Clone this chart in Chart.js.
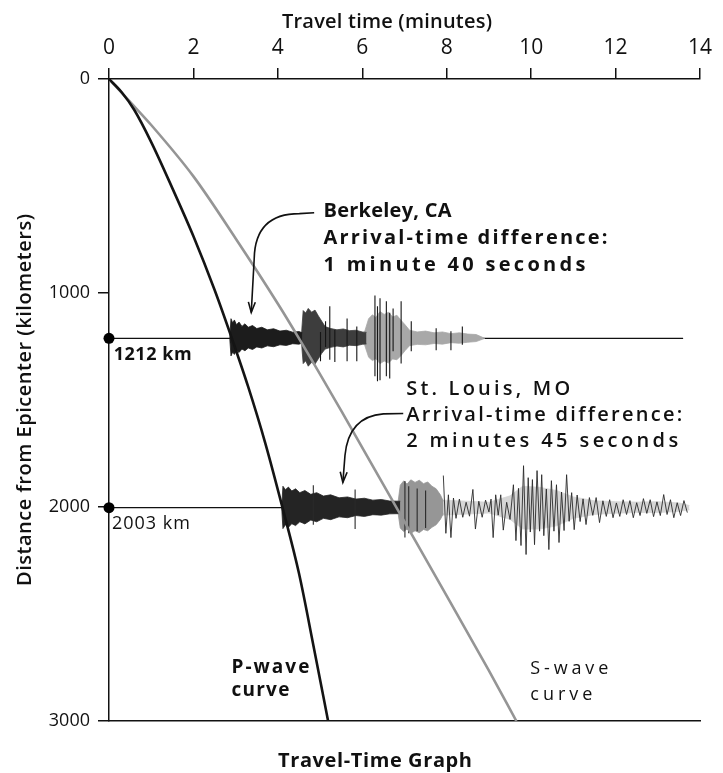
<!DOCTYPE html>
<html>
<head>
<meta charset="utf-8">
<script src="https://cdn.jsdelivr.net/npm/chart.js@4.4.1/dist/chart.umd.min.js"></script>
<style>
  html, body { margin: 0; padding: 0; background: #fff; }
  #wrap { width: 723px; height: 773px; }
</style>
</head>
<body>
<div id="wrap"><canvas id="travel-chart"></canvas></div>
<script>
// axis ticks
const minuteTicks = [0, 2, 4, 6, 8, 10, 12, 14];
const distanceTicks = [0, 1000, 2000, 3000];

// travel-time curves (minutes -> km)
const pWaveMinutes = [0, 0.3, 0.6, 1.0, 1.5, 2.0, 2.5, 2.91, 3.3, 3.7, 4.11, 4.5, 4.85, 5.19];
const pWaveKm      = [0, 62, 145, 295, 510, 735, 985, 1212, 1440, 1700, 2003, 2310, 2655, 3000];
const sWaveMinutes = [0, 0.5, 1, 2, 3, 4, 4.5, 5.5, 6.81, 8, 9, 9.65];
const sWaveKm      = [0, 107, 215, 455, 745, 1050, 1212, 1550, 2003, 2415, 2765, 3000];

// stations
const stationKm = [1212, 2003];
const stationLabels = ['1212 km', '2003 km'];
const traceEnd = [13.6, 13.7];

// Berkeley seismogram (offsets in km above / below the 1212 km line)
const bkPTimes = [2.86, 2.89, 2.93, 2.97, 3.02, 3.08, 3.15, 3.22, 3.3, 3.4, 3.5, 3.62, 3.75, 3.9, 4.05, 4.2, 4.35, 4.5, 4.58];
const bkPUp    = [0, 92, 72, 86, 64, 76, 56, 68, 52, 60, 46, 52, 40, 45, 34, 38, 29, 32, 26];
const bkPDown  = [0, 82, 64, 75, 56, 66, 50, 58, 45, 52, 40, 45, 35, 39, 30, 33, 25, 27, 22];
const bkSTimes = [4.56, 4.6, 4.66, 4.72, 4.8, 4.88, 4.96, 5.04, 5.12, 5.25, 5.4, 5.55, 5.7, 5.85, 6.0, 6.1];
const bkSUp    = [22, 130, 118, 140, 122, 132, 105, 80, 55, 46, 40, 44, 36, 38, 30, 28];
const bkSDown  = [20, 118, 105, 130, 112, 120, 95, 70, 50, 42, 36, 40, 32, 34, 28, 26];
const bkLTimes = [6.05, 6.15, 6.24, 6.32, 6.42, 6.52, 6.62, 6.72, 6.82, 6.92, 7.02, 7.12, 7.3, 7.5, 7.7, 7.9, 8.1, 8.3, 8.5, 8.7, 8.9];
const bkLUp    = [28, 92, 110, 98, 125, 112, 122, 100, 108, 84, 62, 38, 30, 34, 26, 30, 22, 26, 20, 18, 0];
const bkLDown  = [28, 88, 104, 95, 118, 106, 115, 96, 100, 80, 56, 34, 28, 30, 24, 27, 20, 23, 18, 15, 0];
const bkSpikeTimes = [5.01, 5.13, 5.23, 5.35, 5.64, 5.87, 6.30, 6.36, 6.42, 6.57, 6.65, 6.73, 6.92, 7.16, 7.75, 8.1, 8.37];
const bkSpikeUp    = [30, 80, 150, 40, 93, 56, 200, 150, 187, 173, 120, 140, 173, 80, 47, 33, 56];
const bkSpikeDown  = [107, 40, 100, 110, 107, 107, 177, 200, 196, 177, 187, 60, 117, 60, 56, 56, 30];

// St. Louis seismogram (offsets in km around the 2003 km line)
const slPTimes = [4.09, 4.12, 4.18, 4.25, 4.33, 4.42, 4.52, 4.64, 4.78, 4.92, 5.08, 5.25, 5.45, 5.65, 5.85, 6.05, 6.25, 6.45, 6.65, 6.9];
const slPUp    = [0, 100, 84, 96, 78, 88, 70, 80, 62, 70, 54, 60, 46, 50, 40, 44, 35, 38, 31, 30];
const slPDown  = [0, 98, 80, 92, 75, 84, 66, 76, 58, 66, 50, 56, 43, 47, 37, 41, 33, 35, 29, 28];
const slSTimes = [6.85, 6.9, 6.98, 7.06, 7.15, 7.25, 7.35, 7.45, 7.55, 7.65, 7.75, 7.85, 7.92];
const slSUp    = [30, 105, 125, 110, 130, 118, 128, 112, 120, 100, 88, 60, 30];
const slSDown  = [28, 95, 112, 100, 120, 108, 117, 102, 108, 92, 80, 55, 28];
const slLTimes = [7.9, 8.5, 9.0, 9.5, 9.8, 10.2, 10.6, 11.0, 11.5, 12.0, 12.5, 13.0, 13.5, 13.75];
const slLUp    = [35, 30, 25, 55, 100, 95, 80, 50, 32, 28, 26, 28, 22, 10];
const slLDown  = [35, 30, 25, 55, 100, 100, 85, 50, 32, 26, 23, 23, 18, 10];
const slSpikeTimes = [4.84, 5.83, 7.01, 7.1, 7.3, 7.5];
const slSpikeUp    = [105, 85, 125, 100, 90, 80];
const slSpikeDown  = [80, 100, 140, 120, 110, 95];
const slWiggleTimes = [7.92, 7.98, 8.04, 8.1, 8.16, 8.22, 8.3, 8.38, 8.46, 8.54, 8.62, 8.68, 8.76, 8.84, 8.92, 9.0,
  9.05, 9.1, 9.16, 9.22, 9.28, 9.34, 9.42, 9.5, 9.58, 9.64, 9.7, 9.76, 9.82, 9.88, 9.93, 9.98, 10.03, 10.08,
  10.14, 10.2, 10.25, 10.3, 10.36, 10.42, 10.48, 10.54, 10.6, 10.66, 10.72, 10.78, 10.84, 10.9, 10.96, 11.02,
  11.09, 11.16, 11.23, 11.3, 11.38, 11.46, 11.54, 11.62, 11.7, 11.78, 11.86, 11.94, 12.02, 12.1, 12.18, 12.26,
  12.34, 12.42, 12.5, 12.58, 12.66, 12.74, 12.82, 12.9, 12.98, 13.06, 13.14, 13.22, 13.3, 13.38, 13.46, 13.54,
  13.62, 13.7];
const slWiggleKm = [-150, 120, -60, 140, -45, 50, -40, 45, -25, 40, -85, 100, -30, 45, -35, 20,
  -40, 140, -60, 35, -60, 105, -25, 55, -107, 154, -90, 177, -196, 219, -140, 114, -131, 173,
  -173, 110, -154, 131, -87, 196, -126, 110, -107, 163, -73, 107, -154, 64, -70, 103,
  -59, 65, -41, 79, -47, 36, -47, 70, -32, 41, -37, 47, -22, 41, -37, 32,
  -33, 47, -23, 37, -42, 27, -37, 42, -27, 37, -61, 32, -37, 47, -23, 37,
  -33, 23];

const pts = (xs, ys) => xs.map((x, i) => ({ x, y: ys[i] }));
const line = (data, color, width, extra) => Object.assign({
  data, borderColor: color, borderWidth: width, pointRadius: 0, fill: false, tension: 0
}, extra || {});

function band(times, up, down, base, color) {
  return [
    line(times.map((t, i) => ({ x: t, y: base - up[i] })), color, 0.8, { fill: '+1', backgroundColor: color }),
    line(times.map((t, i) => ({ x: t, y: base + down[i] })), color, 0.8)
  ];
}
function spikes(times, up, down, base, color) {
  const data = [];
  times.forEach((t, i) => {
    data.push({ x: t, y: base - up[i] }, { x: t, y: base + down[i] }, { x: t, y: null });
  });
  return line(data, color, 1.1, { spanGaps: false });
}

const datasets = [
  line(pts(pWaveMinutes, pWaveKm), '#141414', 2.6, { cubicInterpolationMode: 'monotone' }),
  line(pts(sWaveMinutes, sWaveKm), '#959595', 2.6, { cubicInterpolationMode: 'monotone' }),
  { data: stationKm.map(d => ({ x: 0, y: d })), showLine: false, pointRadius: 5.5,
    pointBackgroundColor: '#000', pointBorderWidth: 0, clip: false },
  spikes(bkSpikeTimes, bkSpikeUp, bkSpikeDown, stationKm[0], '#151515'),
  spikes(slSpikeTimes, slSpikeUp, slSpikeDown, stationKm[1], '#2a2a2a'),
  line(slWiggleTimes.map((t, i) => ({ x: t, y: stationKm[1] + slWiggleKm[i] })), '#2a2a2a', 0.9),
  ...band(bkPTimes, bkPUp, bkPDown, stationKm[0], '#1c1c1c'),
  ...band(bkSTimes, bkSUp, bkSDown, stationKm[0], '#3d3d3d'),
  ...band(bkLTimes, bkLUp, bkLDown, stationKm[0], '#a8a8a8'),
  ...band(slPTimes, slPUp, slPDown, stationKm[1], '#242424'),
  ...band(slSTimes, slSUp, slSDown, stationKm[1], '#969696'),
  ...band(slLTimes, slLUp, slLDown, stationKm[1], '#d6d6d6'),
  line([{ x: 0, y: stationKm[0] }, { x: traceEnd[0], y: stationKm[0] }], '#111', 1.3),
  line([{ x: 0, y: stationKm[1] }, { x: traceEnd[1], y: stationKm[1] }], '#111', 1.3)
];

const FONT = "'Open Sans', sans-serif";

function arrowPath(ctx, path, tip) {
  ctx.beginPath();
  ctx.moveTo(path[0][0], path[0][1]);
  ctx.lineTo(path[1][0], path[1][1]);
  ctx.quadraticCurveTo(path[2][0], path[2][1], path[3][0], path[3][1]);
  ctx.lineTo(tip[0], tip[1]);
  ctx.stroke();
  const ang = Math.atan2(tip[1] - path[3][1], tip[0] - path[3][0]);
  ctx.beginPath();
  ctx.moveTo(tip[0] - 11 * Math.cos(ang - 0.32), tip[1] - 11 * Math.sin(ang - 0.32));
  ctx.lineTo(tip[0], tip[1]);
  ctx.lineTo(tip[0] - 11 * Math.cos(ang + 0.32), tip[1] - 11 * Math.sin(ang + 0.32));
  ctx.stroke();
}

// the scanned lettering is loosely tracked: spread glyphs over a given width
function fitText(ctx, str, x, y, width) {
  const chars = [...str];
  const w = chars.map(c => ctx.measureText(c).width);
  const total = w.reduce((a, b) => a + b, 0);
  const gap = Math.max(0, (width - total) / (chars.length - 1));
  let cx = x;
  chars.forEach((c, i) => { ctx.fillText(c, cx, y); cx += w[i] + gap; });
}

const notesPlugin = {
  id: 'notes',
  afterDraw(chart) {
    const { ctx, scales: { x, y } } = chart;
    const P = (t, d) => [x.getPixelForValue(t), y.getPixelForValue(d)];
    ctx.save();
    ctx.fillStyle = '#111';
    ctx.strokeStyle = '#111';
    ctx.textAlign = 'left';
    ctx.textBaseline = 'alphabetic';

    const text = (str, t, d, font, width) => {
      const [px, py] = P(t, d);
      ctx.font = font;
      fitText(ctx, str, px, py, width);
    };

    // station call-outs
    text('Berkeley, CA', 5.08, 643, `bold 20px ${FONT}`, 128);
    text('Arrival-time difference:', 5.08, 769, `bold 20px ${FONT}`, 284);
    text('1 minute 40 seconds', 5.08, 895, `bold 20px ${FONT}`, 262);
    text('St. Louis, MO', 7.04, 1478, `600 20px ${FONT}`, 164);
    text('Arrival-time difference:', 7.04, 1600, `600 20px ${FONT}`, 276);
    text('2 minutes 45 seconds', 7.04, 1721, `600 20px ${FONT}`, 272);

    text(stationLabels[0], 0.11, 1315, `bold 18px ${FONT}`, 78);
    text(stationLabels[1], 0.07, 2104, `18px ${FONT}`, 78);
    text('P-wave', 2.9, 2776, `bold 19px ${FONT}`, 78);
    text('curve', 2.9, 2884, `bold 19px ${FONT}`, 58);
    text('S-wave', 9.98, 2781, `18px ${FONT}`, 78);
    text('curve', 9.98, 2903, `18px ${FONT}`, 62);

    // leader arrows
    ctx.lineWidth = 1.6;
    arrowPath(ctx, [P(4.86, 625), P(4.51, 629), P(3.46, 629), P(3.44, 839)], P(3.37, 1091));
    arrowPath(ctx, [P(6.97, 1563), P(6.5, 1565), P(5.68, 1577), P(5.59, 1759)], P(5.54, 1885));

    // titles
    ctx.font = `600 20px ${FONT}`;
    fitText(ctx, 'Travel time (minutes)', 282, 28, 210);
    ctx.font = `bold 20px ${FONT}`;
    fitText(ctx, 'Travel-Time Graph', 278, 767, 194);
    ctx.translate(25, 400);
    ctx.rotate(-Math.PI / 2);
    ctx.font = `600 20px ${FONT}`;
    ctx.textBaseline = 'middle';
    fitText(ctx, 'Distance from Epicenter (kilometers)', -186, 0, 372);
    ctx.restore();
  }
};

new Chart(document.getElementById('travel-chart'), {
  type: 'line',
  data: { datasets },
  plugins: [notesPlugin],
  options: {
    responsive: true,
    maintainAspectRatio: false,
    animation: false,
    layout: { padding: { left: 0, top: 0, right: 23, bottom: 0 } },
    plugins: { legend: { display: false }, tooltip: { enabled: false } },
    scales: {
      x: {
        type: 'linear', position: 'top', min: 0, max: 14,
        afterFit: s => { s.height = 79; },
        afterBuildTicks: s => { s.ticks = minuteTicks.map(v => ({ value: v })); },
        grid: { drawOnChartArea: false, drawTicks: true, tickLength: 11, color: '#111', lineWidth: 1.5 },
        border: { display: true, color: '#111', width: 1.5 },
        ticks: { color: '#111', padding: 7, font: { family: FONT, size: 21 }, callback: v => String(v) }
      },
      x2: {
        type: 'linear', position: 'bottom', min: 0, max: 14,
        afterFit: s => { s.height = 52; },
        grid: { display: false },
        border: { display: true, color: '#111', width: 1.5 },
        ticks: { display: false }
      },
      y: {
        type: 'linear', position: 'left', reverse: true, min: 0, max: 3000,
        afterFit: s => { s.width = 109; },
        afterBuildTicks: s => { s.ticks = distanceTicks.map(v => ({ value: v })); },
        grid: { drawOnChartArea: false, drawTicks: true, tickLength: 11, color: '#111', lineWidth: 1.5 },
        border: { display: true, color: '#111', width: 1.5 },
        ticks: { color: '#111', padding: 8, font: { family: FONT, size: 18 }, callback: v => String(v) }
      }
    }
  }
});
</script>
</body>
</html>
